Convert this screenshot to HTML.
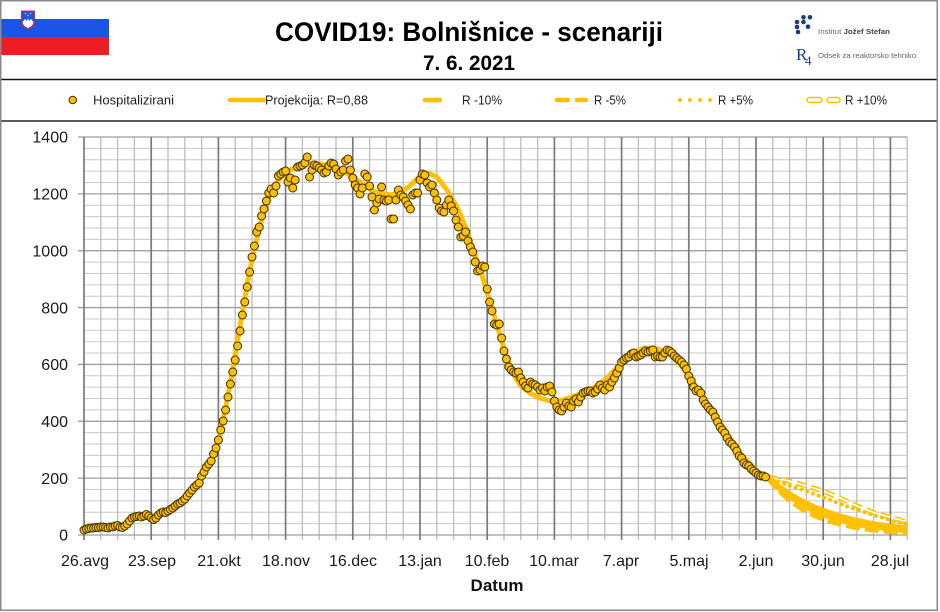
<!DOCTYPE html>
<html><head><meta charset="utf-8"><style>
html,body{margin:0;padding:0;background:#fff;}
svg{display:block;}
text{font-family:"Liberation Sans",Arial,sans-serif;}
.pt{fill:#FFC000;stroke:#3b2e00;stroke-width:1;}
</style></head><body>
<svg width="940" height="612" viewBox="0 0 940 612" xmlns="http://www.w3.org/2000/svg">
<rect x="0" y="0" width="940" height="612" fill="#fff"/>
<!-- flag -->
<rect x="0" y="19" width="109" height="18" fill="#1a55e8"/>
<rect x="0" y="37" width="109" height="18" fill="#ee1c25"/>
<path d="M21.5 11 L34.5 11 L34.5 21 Q34.5 27 28 29 Q21.5 27 21.5 21 Z" fill="#1a55e8" stroke="#ee1c25" stroke-width="1"/>
<path d="M22.5 22 L25 19 L27 21 L28 18 L29 21 L31 19 L33.5 22 Q33 26 28 28 Q23 26 22.5 22 Z" fill="#fff"/>
<circle cx="25.5" cy="13.5" r="0.8" fill="#ffd200"/><circle cx="30.5" cy="13.5" r="0.8" fill="#ffd200"/><circle cx="28" cy="15.5" r="0.8" fill="#ffd200"/>
<!-- title -->
<text x="275" y="41" font-size="27" font-weight="bold" fill="#000" textLength="388" lengthAdjust="spacingAndGlyphs">COVID19: Bolnišnice - scenariji</text>
<text x="423" y="70" font-size="21" font-weight="bold" fill="#000" textLength="92" lengthAdjust="spacingAndGlyphs">7. 6. 2021</text>
<!-- logo -->
<g fill="#1b3a8c">
<circle cx="803.5" cy="17.3" r="2.3"/><circle cx="810" cy="17.3" r="2.3"/>
<circle cx="797" cy="22" r="2.3"/><circle cx="803.5" cy="22" r="2.3"/>
<circle cx="797" cy="27" r="2.3"/><circle cx="808" cy="26.7" r="2.3"/>
<circle cx="798" cy="32" r="2.3"/>
</g>
<text x="818" y="34" font-size="7.5" fill="#666" textLength="72" lengthAdjust="spacingAndGlyphs">Institut <tspan font-weight="bold" fill="#444">Jožef Stefan</tspan></text>
<text x="796" y="60" font-size="17" fill="#1b3a8c" style="font-family:'Liberation Serif',serif">R</text>
<text x="805" y="65" font-size="13" fill="#1b3a8c" style="font-family:'Liberation Serif',serif">4</text>
<text x="818" y="58" font-size="7.5" fill="#666" textLength="98" lengthAdjust="spacingAndGlyphs">Odsek za reaktorsko tehniko</text>
<!-- frame lines -->
<line x1="0" y1="79.5" x2="937" y2="79.5" stroke="#111" stroke-width="1.5"/>
<line x1="0" y1="121" x2="937" y2="121" stroke="#5a5a5a" stroke-width="2"/>
<rect x="0.75" y="0.75" width="936.5" height="609.5" fill="none" stroke="#8a8a8a" stroke-width="1.5"/>
<!-- legend -->
<g font-size="13" fill="#222">
<circle cx="72.7" cy="100" r="3.7" class="pt"/>
<text x="93" y="104.5" textLength="81" lengthAdjust="spacingAndGlyphs">Hospitalizirani</text>
<line x1="230" y1="100" x2="264" y2="100" stroke="#FFC000" stroke-width="4.5" stroke-linecap="round"/>
<text x="265" y="104.5" textLength="103" lengthAdjust="spacingAndGlyphs">Projekcija: R=0,88</text>
<line x1="425" y1="100" x2="440" y2="100" stroke="#FFC000" stroke-width="4.5" stroke-linecap="round"/>
<text x="462" y="104.5" textLength="40" lengthAdjust="spacingAndGlyphs">R -10%</text>
<line x1="557" y1="100" x2="568" y2="100" stroke="#FFC000" stroke-width="4.5" stroke-linecap="round"/>
<line x1="577" y1="100" x2="586" y2="100" stroke="#FFC000" stroke-width="4.5" stroke-linecap="round"/>
<text x="594" y="104.5" textLength="32" lengthAdjust="spacingAndGlyphs">R -5%</text>
<circle cx="680" cy="100" r="2" fill="#FFC000"/><circle cx="690" cy="100" r="2" fill="#FFC000"/><circle cx="700" cy="100" r="2" fill="#FFC000"/><circle cx="710" cy="100" r="2" fill="#FFC000"/>
<text x="718" y="104.5" textLength="35" lengthAdjust="spacingAndGlyphs">R +5%</text>
<rect x="807" y="97.5" width="15" height="5" rx="2.5" fill="#fff" stroke="#FFC000" stroke-width="1.5"/>
<rect x="827" y="97.5" width="13" height="5" rx="2.5" fill="#fff" stroke="#FFC000" stroke-width="1.5"/>
<text x="845" y="104.5" textLength="42" lengthAdjust="spacingAndGlyphs">R +10%</text>
</g>
<!-- grid: horizontal minor -->
<path stroke="#c8c8c8" stroke-width="1" fill="none" d="M84 148.37H907.2M84 159.74H907.2M84 171.11H907.2M84 182.49H907.2M84 205.23H907.2M84 216.6H907.2M84 227.97H907.2M84 239.34H907.2M84 262.09H907.2M84 273.46H907.2M84 284.83H907.2M84 296.2H907.2M84 318.94H907.2M84 330.31H907.2M84 341.69H907.2M84 353.06H907.2M84 375.8H907.2M84 387.17H907.2M84 398.54H907.2M84 409.91H907.2M84 432.66H907.2M84 444.03H907.2M84 455.4H907.2M84 466.77H907.2M84 489.51H907.2M84 500.89H907.2M84 512.26H907.2M84 523.63H907.2"/>
<!-- vertical minor -->
<path stroke="#bdbdbd" stroke-width="1.3" fill="none" d="M100.8 137V540M117.6 137V540M134.4 137V540M168 137V540M184.8 137V540M201.6 137V540M235.2 137V540M252 137V540M268.8 137V540M302.4 137V540M319.2 137V540M336 137V540M369.6 137V540M386.4 137V540M403.2 137V540M436.8 137V540M453.6 137V540M470.4 137V540M504 137V540M520.8 137V540M537.6 137V540M571.2 137V540M588 137V540M604.8 137V540M638.4 137V540M655.2 137V540M672 137V540M705.6 137V540M722.4 137V540M739.2 137V540M772.8 137V540M789.6 137V540M806.4 137V540M840 137V540M856.8 137V540M873.6 137V540M907.2 137V540"/>
<!-- horizontal major -->
<path stroke="#9e9e9e" stroke-width="1.3" fill="none" d="M78 137H907.2M78 193.86H907.2M78 250.71H907.2M78 307.57H907.2M78 364.43H907.2M78 421.29H907.2M78 478.14H907.2M78 535H907.2"/>
<!-- vertical major -->
<path stroke="#7a7a7a" stroke-width="1.7" fill="none" d="M84 137V540M151.2 137V540M218.4 137V540M285.6 137V540M352.8 137V540M420 137V540M487.2 137V540M554.4 137V540M621.6 137V540M688.8 137V540M756 137V540M823.2 137V540M890.4 137V540"/>
<!-- y labels -->
<g font-size="16" fill="#1a1a1a" text-anchor="end">
<text x="68" y="142.7">1400</text><text x="68" y="199.6">1200</text><text x="68" y="256.4">1000</text><text x="68" y="313.3">800</text><text x="68" y="370.1">600</text><text x="68" y="427">400</text><text x="68" y="483.8">200</text><text x="68" y="540.7">0</text>
</g>
<!-- x labels -->
<g font-size="16" fill="#1a1a1a" text-anchor="middle">
<text x="85" y="566">26.avg</text><text x="152" y="566">23.sep</text><text x="219" y="566">21.okt</text><text x="286" y="566">18.nov</text><text x="353" y="566">16.dec</text><text x="420" y="566">13.jan</text><text x="487" y="566">10.feb</text><text x="554" y="566">10.mar</text><text x="621" y="566">7.apr</text><text x="689" y="566">5.maj</text><text x="756" y="566">2.jun</text><text x="823" y="566">30.jun</text><text x="890" y="566">28.jul</text>
</g>
<text x="497" y="591" font-size="17" font-weight="bold" fill="#111" text-anchor="middle">Datum</text>
<!-- model line -->
<polyline fill="none" stroke="#FFC000" stroke-width="5" stroke-linejoin="round" stroke-linecap="round" points="200,482 210,463 218,442 224,415 230,385 236,350 242,315 248,280 254,250 260,225 266,205 272,190 280,178 290,170 300,165 315,163 330,166 345,172 360,182 375,192 390,195 400,193 410,186 420,176 428,173 437,177 447,190 457,207 466,228 474,252 481,272 487,292 494,315 500,335 506,355 512,372 520,385 530,393 540,398 550,401 558,401 566,399 575,396 585,392 595,387 605,380 615,370 625,360 635,352 645,348 655,348 663,351 670,355 678,362 686,372 694,384 702,396 710,408 718,420 726,432 734,444 742,455 750,464 758,472 766,477"/>
<!-- projections -->
<polyline fill="none" stroke="#FFC000" stroke-width="5" stroke-dasharray="10 5" stroke-linejoin="round" points="767,477 785,480 807,486 823,491 840,498 857,506 875,513 893,518 907,522"/>
<polyline fill="none" stroke="#fff" stroke-width="1.8" stroke-dasharray="10 5" stroke-linejoin="round" points="767,477 785,480 807,486 823,491 840,498 857,506 875,513 893,518 907,522"/>
<polyline fill="none" stroke="#FFC000" stroke-width="4" stroke-dasharray="0.1 6" stroke-linecap="round" points="767,477 785,484 800,489 820,496 846,506 870,514 893,521 907,524"/>
<polyline fill="none" stroke="#FFC000" stroke-width="5" stroke-linejoin="round" points="767,477 779,486.5 791,494.7 803,501.4 815,507.1 827,511.7 839,515.6 851,518.9 863,521.6 875,523.9 887,525.7 899,527.3 907,528.1"/>
<polyline fill="none" stroke="#FFC000" stroke-width="5" stroke-dasharray="9 4" stroke-linecap="round" points="767,477 779,488.5 791,497.9 803,505.3 815,511.3 827,516.1 839,519.9 851,522.9 863,525.4 875,527.3 887,528.9 899,530.1 907,530.8"/>
<polyline fill="none" stroke="#FFC000" stroke-width="5" stroke-dasharray="14 5" points="767,477 779,490.8 791,501.5 803,509.6 815,515.8 827,520.4 839,524 851,526.6 863,528.7 875,530.2 887,531.4 899,532.2 907,532.7"/>
<!-- data points -->
<g class="pts">
<circle class="pt" r="4" cx="84" cy="530"/><circle class="pt" r="4" cx="86.4" cy="529"/><circle class="pt" r="4" cx="88.8" cy="528.5"/><circle class="pt" r="4" cx="91.2" cy="528"/><circle class="pt" r="4" cx="93.6" cy="528"/><circle class="pt" r="4" cx="96" cy="527.5"/><circle class="pt" r="4" cx="98.4" cy="527.5"/><circle class="pt" r="4" cx="100.8" cy="527"/><circle class="pt" r="4" cx="103.2" cy="527"/><circle class="pt" r="4" cx="105.6" cy="527.5"/>
<circle class="pt" r="4" cx="108" cy="528"/><circle class="pt" r="4" cx="110.4" cy="527"/><circle class="pt" r="4" cx="112.8" cy="527"/><circle class="pt" r="4" cx="115.2" cy="526"/><circle class="pt" r="4" cx="117.6" cy="525.5"/><circle class="pt" r="4" cx="120" cy="527"/><circle class="pt" r="4" cx="122.4" cy="527.5"/><circle class="pt" r="4" cx="124.8" cy="526"/><circle class="pt" r="4" cx="127.2" cy="524"/><circle class="pt" r="4" cx="129.6" cy="521"/>
<circle class="pt" r="4" cx="132" cy="518"/><circle class="pt" r="4" cx="134.4" cy="517"/><circle class="pt" r="4" cx="136.8" cy="516.5"/><circle class="pt" r="4" cx="139.2" cy="516"/><circle class="pt" r="4" cx="141.6" cy="517"/><circle class="pt" r="4" cx="144" cy="516"/><circle class="pt" r="4" cx="146.4" cy="514.5"/><circle class="pt" r="4" cx="148.8" cy="516"/><circle class="pt" r="4" cx="151.2" cy="518"/><circle class="pt" r="4" cx="153.6" cy="519.5"/>
<circle class="pt" r="4" cx="156" cy="518"/><circle class="pt" r="4" cx="158.4" cy="515"/><circle class="pt" r="4" cx="160.8" cy="513"/><circle class="pt" r="4" cx="163.2" cy="512"/><circle class="pt" r="4" cx="165.6" cy="512.5"/><circle class="pt" r="4" cx="168" cy="511"/><circle class="pt" r="4" cx="170.4" cy="509.5"/><circle class="pt" r="4" cx="172.8" cy="508"/><circle class="pt" r="4" cx="175.2" cy="506"/><circle class="pt" r="4" cx="177.6" cy="504"/>
<circle class="pt" r="4" cx="180" cy="503"/><circle class="pt" r="4" cx="182.4" cy="501"/><circle class="pt" r="4" cx="184.8" cy="499"/><circle class="pt" r="4" cx="187.2" cy="496"/><circle class="pt" r="4" cx="189.6" cy="493"/><circle class="pt" r="4" cx="192" cy="490"/><circle class="pt" r="4" cx="194.4" cy="487"/><circle class="pt" r="4" cx="196.8" cy="485"/><circle class="pt" r="4" cx="199.2" cy="483"/><circle class="pt" r="4" cx="201.6" cy="476"/>
<circle class="pt" r="4" cx="204" cy="472"/><circle class="pt" r="4" cx="206.4" cy="467"/><circle class="pt" r="4" cx="208.8" cy="464"/><circle class="pt" r="4" cx="211.2" cy="461"/><circle class="pt" r="4" cx="213.6" cy="454"/><circle class="pt" r="4" cx="216" cy="448"/><circle class="pt" r="4" cx="218.4" cy="440"/><circle class="pt" r="4" cx="220.8" cy="430"/><circle class="pt" r="4" cx="223.2" cy="421"/><circle class="pt" r="4" cx="225.6" cy="410"/>
<circle class="pt" r="4" cx="228" cy="397"/><circle class="pt" r="4" cx="230.4" cy="384"/><circle class="pt" r="4" cx="232.8" cy="372"/><circle class="pt" r="4" cx="235.2" cy="360"/><circle class="pt" r="4" cx="237.6" cy="346"/><circle class="pt" r="4" cx="240" cy="331"/><circle class="pt" r="4" cx="242.4" cy="315"/><circle class="pt" r="4" cx="244.8" cy="302"/><circle class="pt" r="4" cx="247.2" cy="287"/><circle class="pt" r="4" cx="249.6" cy="272"/>
<circle class="pt" r="4" cx="252" cy="257"/><circle class="pt" r="4" cx="254.4" cy="246"/><circle class="pt" r="4" cx="256.8" cy="232"/><circle class="pt" r="4" cx="259.2" cy="227"/><circle class="pt" r="4" cx="261.6" cy="216"/><circle class="pt" r="4" cx="264" cy="209"/><circle class="pt" r="4" cx="266.4" cy="201"/><circle class="pt" r="4" cx="268.8" cy="193"/><circle class="pt" r="4" cx="271.2" cy="189"/><circle class="pt" r="4" cx="273.6" cy="193"/>
<circle class="pt" r="4" cx="276" cy="186"/><circle class="pt" r="4" cx="278.4" cy="176"/><circle class="pt" r="4" cx="280.8" cy="174"/><circle class="pt" r="4" cx="283.2" cy="172"/><circle class="pt" r="4" cx="285.6" cy="171"/><circle class="pt" r="4" cx="288" cy="182"/><circle class="pt" r="4" cx="290.4" cy="178"/><circle class="pt" r="4" cx="292.8" cy="188"/><circle class="pt" r="4" cx="295.2" cy="180"/><circle class="pt" r="4" cx="297.6" cy="167"/>
<circle class="pt" r="4" cx="300" cy="166"/><circle class="pt" r="4" cx="302.4" cy="165"/><circle class="pt" r="4" cx="304.8" cy="163"/><circle class="pt" r="4" cx="307.2" cy="157"/><circle class="pt" r="4" cx="309.6" cy="177"/><circle class="pt" r="4" cx="312" cy="170"/><circle class="pt" r="4" cx="314.4" cy="165"/><circle class="pt" r="4" cx="316.8" cy="166"/><circle class="pt" r="4" cx="319.2" cy="168"/><circle class="pt" r="4" cx="321.6" cy="170"/>
<circle class="pt" r="4" cx="324" cy="173"/><circle class="pt" r="4" cx="326.4" cy="172"/><circle class="pt" r="4" cx="328.8" cy="166"/><circle class="pt" r="4" cx="331.2" cy="163"/><circle class="pt" r="4" cx="333.6" cy="164"/><circle class="pt" r="4" cx="336" cy="169"/><circle class="pt" r="4" cx="338.4" cy="175"/><circle class="pt" r="4" cx="340.8" cy="172"/><circle class="pt" r="4" cx="343.2" cy="170"/><circle class="pt" r="4" cx="345.6" cy="161"/>
<circle class="pt" r="4" cx="348" cy="159"/><circle class="pt" r="4" cx="350.4" cy="170"/><circle class="pt" r="4" cx="352.8" cy="178"/><circle class="pt" r="4" cx="355.2" cy="185"/><circle class="pt" r="4" cx="357.6" cy="188"/><circle class="pt" r="4" cx="360" cy="194"/><circle class="pt" r="4" cx="362.4" cy="188"/><circle class="pt" r="4" cx="364.8" cy="174"/><circle class="pt" r="4" cx="367.2" cy="177"/><circle class="pt" r="4" cx="369.6" cy="186"/>
<circle class="pt" r="4" cx="372" cy="197"/><circle class="pt" r="4" cx="374.4" cy="210"/><circle class="pt" r="4" cx="376.8" cy="203"/><circle class="pt" r="4" cx="379.2" cy="199"/><circle class="pt" r="4" cx="381.6" cy="187"/><circle class="pt" r="4" cx="384" cy="200"/><circle class="pt" r="4" cx="386.4" cy="201"/><circle class="pt" r="4" cx="388.8" cy="200"/><circle class="pt" r="4" cx="391.2" cy="219"/><circle class="pt" r="4" cx="393.6" cy="219"/>
<circle class="pt" r="4" cx="396" cy="200"/><circle class="pt" r="4" cx="398.4" cy="190"/><circle class="pt" r="4" cx="400.8" cy="195"/><circle class="pt" r="4" cx="403.2" cy="197"/><circle class="pt" r="4" cx="405.6" cy="201"/><circle class="pt" r="4" cx="408" cy="205"/><circle class="pt" r="4" cx="410.4" cy="209"/><circle class="pt" r="4" cx="412.8" cy="195"/><circle class="pt" r="4" cx="415.2" cy="193"/><circle class="pt" r="4" cx="417.6" cy="193"/>
<circle class="pt" r="4" cx="420" cy="180"/><circle class="pt" r="4" cx="422.4" cy="174"/><circle class="pt" r="4" cx="424.8" cy="175"/><circle class="pt" r="4" cx="427.2" cy="183"/><circle class="pt" r="4" cx="429.6" cy="187"/><circle class="pt" r="4" cx="432" cy="185"/><circle class="pt" r="4" cx="434.4" cy="193"/><circle class="pt" r="4" cx="436.8" cy="200"/><circle class="pt" r="4" cx="439.2" cy="208"/><circle class="pt" r="4" cx="441.6" cy="211"/>
<circle class="pt" r="4" cx="444" cy="212"/><circle class="pt" r="4" cx="446.4" cy="205"/><circle class="pt" r="4" cx="448.8" cy="200"/><circle class="pt" r="4" cx="451.2" cy="206"/><circle class="pt" r="4" cx="453.6" cy="211"/><circle class="pt" r="4" cx="456" cy="220"/><circle class="pt" r="4" cx="458.4" cy="227"/><circle class="pt" r="4" cx="460.8" cy="237"/><circle class="pt" r="4" cx="463.2" cy="236"/><circle class="pt" r="4" cx="465.6" cy="232"/>
<circle class="pt" r="4" cx="468" cy="241"/><circle class="pt" r="4" cx="470.4" cy="247"/><circle class="pt" r="4" cx="472.8" cy="252"/><circle class="pt" r="4" cx="475.2" cy="262"/><circle class="pt" r="4" cx="477.6" cy="271"/><circle class="pt" r="4" cx="480" cy="270"/><circle class="pt" r="4" cx="482.4" cy="266"/><circle class="pt" r="4" cx="484.8" cy="267"/><circle class="pt" r="4" cx="487.2" cy="289"/><circle class="pt" r="4" cx="489.6" cy="302"/>
<circle class="pt" r="4" cx="492" cy="311"/><circle class="pt" r="4" cx="494.4" cy="324"/><circle class="pt" r="4" cx="496.8" cy="325"/><circle class="pt" r="4" cx="499.2" cy="324"/><circle class="pt" r="4" cx="501.6" cy="338"/><circle class="pt" r="4" cx="504" cy="351"/><circle class="pt" r="4" cx="506.4" cy="359"/><circle class="pt" r="4" cx="508.8" cy="367"/><circle class="pt" r="4" cx="511.2" cy="370"/><circle class="pt" r="4" cx="513.6" cy="372"/>
<circle class="pt" r="4" cx="516" cy="373"/><circle class="pt" r="4" cx="518.4" cy="372"/><circle class="pt" r="4" cx="520.8" cy="378"/><circle class="pt" r="4" cx="523.2" cy="382"/><circle class="pt" r="4" cx="525.6" cy="386"/><circle class="pt" r="4" cx="528" cy="388"/><circle class="pt" r="4" cx="530.4" cy="382"/><circle class="pt" r="4" cx="532.8" cy="384"/><circle class="pt" r="4" cx="535.2" cy="385"/><circle class="pt" r="4" cx="537.6" cy="387"/>
<circle class="pt" r="4" cx="540" cy="390"/><circle class="pt" r="4" cx="542.4" cy="388"/><circle class="pt" r="4" cx="544.8" cy="391"/><circle class="pt" r="4" cx="547.2" cy="387"/><circle class="pt" r="4" cx="549.6" cy="386"/><circle class="pt" r="4" cx="552" cy="392"/><circle class="pt" r="4" cx="554.4" cy="401"/><circle class="pt" r="4" cx="556.8" cy="407"/><circle class="pt" r="4" cx="559.2" cy="410"/><circle class="pt" r="4" cx="561.6" cy="411"/>
<circle class="pt" r="4" cx="564" cy="407"/><circle class="pt" r="4" cx="566.4" cy="403"/><circle class="pt" r="4" cx="568.8" cy="406"/><circle class="pt" r="4" cx="571.2" cy="407"/><circle class="pt" r="4" cx="573.6" cy="401"/><circle class="pt" r="4" cx="576" cy="399"/><circle class="pt" r="4" cx="578.4" cy="402"/><circle class="pt" r="4" cx="580.8" cy="397"/><circle class="pt" r="4" cx="583.2" cy="393"/><circle class="pt" r="4" cx="585.6" cy="392"/>
<circle class="pt" r="4" cx="588" cy="391"/><circle class="pt" r="4" cx="590.4" cy="391"/><circle class="pt" r="4" cx="592.8" cy="393"/><circle class="pt" r="4" cx="595.2" cy="392"/><circle class="pt" r="4" cx="597.6" cy="389"/><circle class="pt" r="4" cx="600" cy="385"/><circle class="pt" r="4" cx="602.4" cy="388"/><circle class="pt" r="4" cx="604.8" cy="390"/><circle class="pt" r="4" cx="607.2" cy="385"/><circle class="pt" r="4" cx="609.6" cy="387"/>
<circle class="pt" r="4" cx="612" cy="382"/><circle class="pt" r="4" cx="614.4" cy="378"/><circle class="pt" r="4" cx="616.8" cy="373"/><circle class="pt" r="4" cx="619.2" cy="368"/><circle class="pt" r="4" cx="621.6" cy="362"/><circle class="pt" r="4" cx="624" cy="360"/><circle class="pt" r="4" cx="626.4" cy="358"/><circle class="pt" r="4" cx="628.8" cy="357"/><circle class="pt" r="4" cx="631.2" cy="354"/><circle class="pt" r="4" cx="633.6" cy="353"/>
<circle class="pt" r="4" cx="636" cy="357"/><circle class="pt" r="4" cx="638.4" cy="356"/><circle class="pt" r="4" cx="640.8" cy="355"/><circle class="pt" r="4" cx="643.2" cy="353"/><circle class="pt" r="4" cx="645.6" cy="351"/><circle class="pt" r="4" cx="648" cy="352"/><circle class="pt" r="4" cx="650.4" cy="351"/><circle class="pt" r="4" cx="652.8" cy="350"/><circle class="pt" r="4" cx="655.2" cy="357"/><circle class="pt" r="4" cx="657.6" cy="356"/>
<circle class="pt" r="4" cx="660" cy="357"/><circle class="pt" r="4" cx="662.4" cy="357"/><circle class="pt" r="4" cx="664.8" cy="353"/><circle class="pt" r="4" cx="667.2" cy="350"/><circle class="pt" r="4" cx="669.6" cy="351"/><circle class="pt" r="4" cx="672" cy="353"/><circle class="pt" r="4" cx="674.4" cy="356"/><circle class="pt" r="4" cx="676.8" cy="358"/><circle class="pt" r="4" cx="679.2" cy="360"/><circle class="pt" r="4" cx="681.6" cy="362"/>
<circle class="pt" r="4" cx="684" cy="365"/><circle class="pt" r="4" cx="686.4" cy="369"/><circle class="pt" r="4" cx="688.8" cy="376"/><circle class="pt" r="4" cx="691.2" cy="381"/><circle class="pt" r="4" cx="693.6" cy="387"/><circle class="pt" r="4" cx="696" cy="391"/><circle class="pt" r="4" cx="698.4" cy="390"/><circle class="pt" r="4" cx="700.8" cy="393"/><circle class="pt" r="4" cx="703.2" cy="400"/><circle class="pt" r="4" cx="705.6" cy="404"/>
<circle class="pt" r="4" cx="708" cy="407"/><circle class="pt" r="4" cx="710.4" cy="410"/><circle class="pt" r="4" cx="712.8" cy="412"/><circle class="pt" r="4" cx="715.2" cy="417"/><circle class="pt" r="4" cx="717.6" cy="422"/><circle class="pt" r="4" cx="720" cy="427"/><circle class="pt" r="4" cx="722.4" cy="430"/><circle class="pt" r="4" cx="724.8" cy="433"/><circle class="pt" r="4" cx="727.2" cy="438"/><circle class="pt" r="4" cx="729.6" cy="442"/>
<circle class="pt" r="4" cx="732" cy="444"/><circle class="pt" r="4" cx="734.4" cy="447"/><circle class="pt" r="4" cx="736.8" cy="451"/><circle class="pt" r="4" cx="739.2" cy="456"/><circle class="pt" r="4" cx="741.6" cy="458"/><circle class="pt" r="4" cx="744" cy="463"/><circle class="pt" r="4" cx="746.4" cy="465"/><circle class="pt" r="4" cx="748.8" cy="466"/><circle class="pt" r="4" cx="751.2" cy="469"/><circle class="pt" r="4" cx="753.6" cy="471"/>
<circle class="pt" r="4" cx="756" cy="473"/><circle class="pt" r="4" cx="758.4" cy="475"/><circle class="pt" r="4" cx="760.8" cy="476"/><circle class="pt" r="4" cx="763.2" cy="476"/><circle class="pt" r="4" cx="765.6" cy="477"/>
</g>
</svg>
</body></html>
